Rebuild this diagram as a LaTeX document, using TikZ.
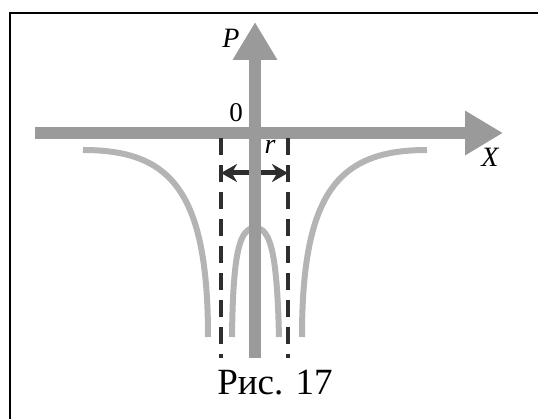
\documentclass[tikz,border=0pt]{standalone}
\usepackage{fontspec}
\setmainfont{Liberation Serif}
\usetikzlibrary{arrows.meta}
\definecolor{axisgray}{HTML}{9A9A9A}
\definecolor{curvegray}{HTML}{B4B4B4}
\definecolor{darkline}{HTML}{2E2E2E}
\tikzset{
  axisline/.style={draw=axisgray,line width=12pt,-{Triangle[length=38pt,width=42pt]}},
  curveline/.style={draw=curvegray,line width=6pt},
  dashline/.style={draw=darkline,line width=4pt,dash pattern=on 17pt off 10pt},
  rarrow/.style={draw=darkline,line width=5pt,-{Stealth[length=16pt,width=18pt]}},
  lbl/.style={inner sep=0pt,font=\fontsize{28}{30}\selectfont\itshape},
  framebox/.style={draw=black,line width=2pt}
}
\begin{document}
\begin{tikzpicture}[x=1pt,y=-1pt]
\useasboundingbox (0,0) rectangle (538,419);
% frame
\draw[framebox] (10,421) -- (10,13) -- (540,13);
% coordinates
\coordinate (xs) at (35,133);
\coordinate (xe) at (503,133);
\coordinate (ys) at (255,358);
\coordinate (ye) at (255,22);
\coordinate (dl1) at (221,138);
\coordinate (dl2) at (221,358);
\coordinate (dr1) at (288,138);
\coordinate (dr2) at (288,358);
\coordinate (al) at (249,173);
\coordinate (alt) at (221,173);
\coordinate (ar) at (261,173);
\coordinate (art) at (288,173);
% curves
\draw[curveline] (83,150) .. controls (170,150) and (208,190) .. (208,337);
\draw[curveline] (427,150) .. controls (340,150) and (302,190) .. (302,337);
\draw[curveline] (232,337) .. controls (233,250) and (240,228) .. (255,228)
                 .. controls (270,228) and (277,250) .. (279,337);
% axes
\draw[axisline] (xs) -- (xe);
\draw[axisline] (ys) -- (ye);
% dashed lines
\draw[dashline] (dl1) -- (dl2);
\draw[dashline] (dr1) -- (dr2);
% r arrows
\draw[rarrow] (al) -- (alt);
\draw[rarrow] (ar) -- (art);
% labels
\node[lbl] (P) at (231,38) {P};
\node[lbl,font=\fontsize{27}{29}\selectfont] (O) at (236,113) {0};
\node[lbl] (r) at (270,147) {r};
\node[lbl] (X) at (490,157) {X};
\node[inner sep=0pt,font=\fontsize{37}{40}\selectfont] (cap) at (275,383) {Рис. 17};
\end{tikzpicture}
\end{document}
